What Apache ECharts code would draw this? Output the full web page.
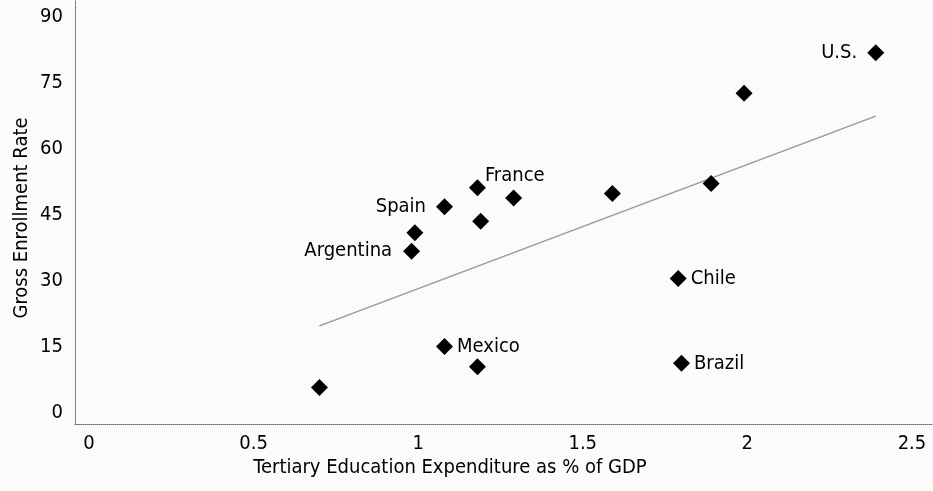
<!DOCTYPE html>
<html>
<head>
<meta charset="utf-8">
<script src="https://cdn.jsdelivr.net/npm/echarts@6/dist/echarts.min.js"></script>
<style>
  html, body { margin: 0; padding: 0; background: #fbfbfb; }
  #chart { width: 933px; height: 491px; }
</style>
</head>
<body>
<div id="chart"></div>
<script>
// countries ('' = unlabelled point)
var countries = ['', 'Argentina', '', 'Spain', 'France', '', '', '', '', '', 'U.S.', 'Chile', 'Brazil', 'Mexico', ''];
// tertiary education expenditure, % of GDP
var expenditure = [0.70, 0.98, 0.99, 1.08, 1.18, 1.19, 1.29, 1.59, 1.89, 1.99, 2.39, 1.79, 1.80, 1.08, 1.18];
// gross enrollment rate
var enrollment = [5.8, 36.8, 41.0, 46.9, 51.2, 43.6, 48.9, 49.9, 52.2, 72.7, 81.9, 30.6, 11.3, 15.1, 10.5];
// fitted trend line end points
var trendX = [0.70, 2.39];
var trendY = [19.8, 67.5];
// tick labels
var xTicks = [0, 0.5, 1, 1.5, 2, 2.5];
var yTicks = [0, 15, 30, 45, 60, 75, 90];

var FONT = 'DejaVu Sans Condensed';

// where each name sits next to its diamond
function labelFor(name){
    if(!name) return { show: false };
    var base = { show: true, formatter: name, color: '#000', fontFamily: FONT, fontSize: 20 };
    switch(name){
        case 'U.S.': base.position = 'left'; base.distance = 10; break;
        case 'Spain': base.position = 'left'; base.distance = 10; break;
        case 'Argentina': base.position = 'left'; base.distance = 11; break;
        case 'France': base.position = 'right'; base.distance = 0; base.offset = [-1, -12]; break;
        default: base.position = 'right'; base.distance = 4;
    }
    return base;
}

var points = expenditure.map(function(x, i){
    return { value: [x, enrollment[i]], label: labelFor(countries[i]) };
});
var trend = trendX.map(function(x, i){ return [x, trendY[i]]; });

var chart = echarts.init(document.getElementById('chart'));
chart.setOption({
    backgroundColor: '#fbfbfb',
    animation: false,
    grid: { left: 75, right: 0, top: 0, bottom: 67 },
    xAxis: {
        type: 'value',
        min: -0.0425, max: 2.564,
        splitLine: { show: false },
        axisTick: { show: false },
        axisLine: { show: true, onZero: false, lineStyle: { color: '#666', type: 'dotted', width: 1 } },
        axisLabel: { customValues: xTicks, margin: 10, color: '#000', fontFamily: FONT, fontSize: 20 }
    },
    yAxis: {
        type: 'value',
        min: -2.5, max: 93.9,
        splitLine: { show: false },
        axisTick: { show: false },
        axisLine: { show: true, onZero: false, lineStyle: { color: '#666', type: 'dotted', width: 1 } },
        axisLabel: { customValues: yTicks, margin: 12, color: '#000', fontFamily: FONT, fontSize: 20 }
    },
    graphic: [
        { type: 'text', x: 450, y: 468, style: { text: 'Tertiary Education Expenditure as % of GDP', fill: '#000', font: '20px "' + FONT + '"', align: 'center', verticalAlign: 'middle' } },
        { type: 'text', x: 22, y: 218, rotation: Math.PI / 2, style: { text: 'Gross Enrollment Rate', fill: '#000', font: '20px "' + FONT + '"', align: 'center', verticalAlign: 'middle' } }
    ],
    series: [
        {
            type: 'line',
            data: trend,
            symbol: 'none',
            lineStyle: { color: '#999', width: 1.5 },
            z: 1
        },
        {
            type: 'scatter',
            data: points,
            symbol: 'diamond',
            symbolSize: 17,
            itemStyle: { color: '#000', opacity: 1 },
            z: 2
        }
    ]
});
</script>
</body>
</html>
